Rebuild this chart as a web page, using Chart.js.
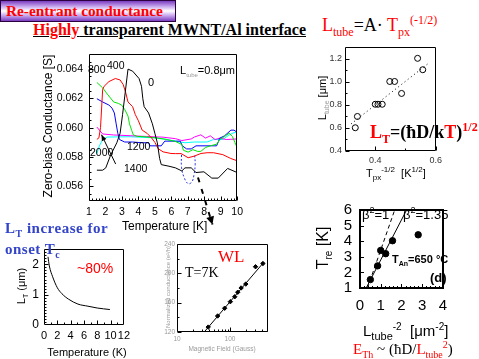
<!DOCTYPE html>
<html><head><meta charset="utf-8">
<script src="https://cdn.jsdelivr.net/npm/chart.js@4/dist/chart.umd.min.js"></script>
<style>
html,body{margin:0;padding:0;background:#fff;}
body{width:479px;height:359px;position:relative;overflow:hidden;font-family:"Liberation Sans",Arial,sans-serif;color:#000;}
canvas{position:absolute;}
.t{position:absolute;white-space:nowrap;line-height:1;transform:translateY(-50%);z-index:5;}
.c{position:absolute;white-space:nowrap;line-height:1;transform:translate(-50%,-50%);z-index:5;}
.r{position:absolute;white-space:nowrap;line-height:1;transform:translate(-50%,-50%) rotate(-90deg);z-index:5;}
.serif{font-family:"Liberation Serif","Times New Roman",serif;}
.red{color:#ff0000;}
.blue{color:#3344c8;}
.gray{color:#9a9a9a;}
sub,sup{line-height:0;}
#titlebox{position:absolute;left:0;top:0;width:174px;height:20px;border:1px solid #2a0040;
  background:linear-gradient(to bottom,#7a3cc0 0%,#c9aaee 28%,#ffffff 50%,#c9aaee 72%,#7a3cc0 100%);z-index:4;}
</style></head>
<body>
<div id="titlebox"></div>
<div class="t serif red" style="left:6px;top:11px;font-size:15.3px;font-weight:bold;">Re-entrant conductance</div>
<div class="t serif" style="left:33px;top:30px;font-size:16px;font-weight:bold;text-decoration:underline;"><span class="red">Highly</span> transparent MWNT/Al interface</div>

<!-- main chart texts -->
<div class="r" style="left:48px;top:126px;font-size:12px;">Zero-bias Conductance [S]</div>
<div class="t" style="left:122px;top:226px;font-size:12px;">Temperature [K]</div>
<div class="t" style="left:88px;top:69px;font-size:10.5px;">800</div>
<div class="t" style="left:107px;top:65px;font-size:10.5px;">400</div>
<div class="t" style="left:148px;top:82px;font-size:11px;">0</div>
<div class="t" style="left:180px;top:70px;font-size:11px;">L<sub class="gray" style="font-size:6px;">tube</sub>=0.8μm</div>
<div class="t" style="left:127px;top:146px;font-size:10.5px;">1200</div>
<div class="t" style="left:90px;top:152px;font-size:10.5px;">2000</div>
<div class="t" style="left:124px;top:168px;font-size:10.5px;">1400</div>

<!-- top right texts -->
<div class="t serif" style="left:322px;top:25px;font-size:18px;"><span class="red">L<sub style="font-size:12px;">tube</sub></span>=A· <span class="red">T<sub style="font-size:12px;">px</sub><sup style="font-size:12px;">(-1/2)</sup></span></div>
<div class="r" style="left:322px;top:98px;font-size:11px;">L<sub class="gray" style="font-size:7px;">tube</sub> [μm]</div>
<div class="t" style="left:366px;top:173px;font-size:11px;">T<sub style="font-size:8px;">px</sub><sup style="font-size:8px;">-1/2</sup>&nbsp;&nbsp;[K<sup style="font-size:8px;">1/2</sup>]</div>
<div class="t serif" style="left:370px;top:132px;font-size:18px;font-weight:bold;"><span class="red">L<sub style="font-size:12px;">T</sub></span>=(ħD/k<span class="red">T</span>)<sup class="red" style="font-size:12px;">1/2</sup></div>

<!-- bottom right texts -->
<div class="t" style="left:362px;top:214px;font-size:13px;">β<sup style="font-size:9px;">2</sup>=1</div>
<div class="t" style="left:403px;top:214px;font-size:13px;">β<sup style="font-size:9px;">2</sup>=1.35</div>
<div class="t" style="left:392px;top:259px;font-size:11px;font-weight:bold;">T<sub style="font-size:7px;">An</sub>=650 °C</div>
<div class="t" style="left:430px;top:277px;font-size:13px;font-weight:bold;">(d)</div>
<div class="r" style="left:323px;top:248px;font-size:16px;">T<sub style="font-size:10px;">re</sub> [K]</div>
<div class="t" style="left:363px;top:330px;font-size:15px;">L<sub style="font-size:11px;">tube</sub><sup style="font-size:10px;">-2</sup>&nbsp;&nbsp;[μm<sup style="font-size:10px;">-2</sup>]</div>
<div class="t serif" style="left:353px;top:349px;font-size:15px;"><span class="red">E<sub style="font-size:10px;">Th</sub></span> ~ (ħD/<span class="red">L<sub style="font-size:10px;">tube</sub><sup style="font-size:10px;">2</sup></span>)</div>

<!-- bottom left texts -->
<div class="t serif blue" style="left:5px;top:228px;font-size:15px;font-weight:bold;letter-spacing:0.5px;">L<sub style="font-size:10px;">T</sub> increase for</div>
<div class="t serif blue" style="left:5px;top:249px;font-size:15px;font-weight:bold;letter-spacing:0.5px;">onset T<sub style="font-size:10px;">c</sub></div>
<div class="t red" style="left:77px;top:268px;font-size:14px;">~80%</div>
<div class="r" style="left:21px;top:286px;font-size:11px;">L<sub style="font-size:7px;">T</sub> (μm)</div>
<div class="c" style="left:87px;top:352px;font-size:11px;">Temperature (K)</div>

<!-- WL texts -->
<div class="t serif red" style="left:218px;top:256px;font-size:17px;">WL</div>
<div class="t serif" style="left:185px;top:273px;font-size:14px;">T=7K</div>
<div class="r gray" style="left:168px;top:287px;font-size:6px;">Normalized conductance (e²/h)</div>
<div class="c gray" style="left:222px;top:349px;font-size:6.5px;">Magnetic Field (Gauss)</div>

<canvas id="cMain" width="199" height="184" style="left:49px;top:42px;"></canvas>
<canvas id="cTR" width="131" height="132" style="left:315px;top:39px;"></canvas>
<canvas id="cBR" width="121" height="120" style="left:335px;top:193px;"></canvas>
<canvas id="cBL" width="110" height="106" style="left:24px;top:237px;"></canvas>
<canvas id="cWL" width="111" height="106" style="left:163px;top:238px;"></canvas>

<script>
// ---------- DATA ----------
// Main chart: zero-bias conductance [S] vs temperature [K], one curve per field label
const seriesLabels = ['0', '400', '800', '1200', '1400', '2000'];
const tempBlack = [1.48,1.83,2.02,2.31,2.69,2.89,3.04,3.37,3.65,4.04,4.19,4.27,4.35,4.62,4.85,5.0,5.15,5.29,5.39,5.86,6.25,6.64,6.83,7.21,7.5,7.98,8.46,8.85,9.42,10];
const condBlack = [.0571,.0571,.05726,.05812,.05897,.05962,.0609,.06399,.06385,.06335,.06282,.06197,.06143,.061,.06026,.05962,.05897,.0579,.05748,.05737,.05726,.05705,.05726,.05726,.05694,.05699,.05656,.05656,.05722,.05694];
const tempRed = [1.48,1.6,1.7,1.83,1.92,2.21,2.6,2.89,3.08,3.23,3.37,3.65,3.81,4.0,4.23,4.52,4.8,5.0,5.21,5.5,5.98,6.25,6.6,7.02,7.4,7.8,8.17,8.57,9.13,9.61,10];
const condRed = [.0592,.0593,.0600,.06261,.06282,.06314,.06335,.06325,.06293,.06239,.06175,.06143,.0609,.06047,.05983,.05962,.0593,.0590,.05856,.05835,.05824,.05823,.05823,.05795,.05806,.05824,.05829,.05829,.05816,.0579,.05774];
const tempGreen = [1.48,1.83,2.11,2.5,2.79,2.98,3.18,3.37,3.46,3.6,3.69,3.94,4.35,5.12,5.69,6.27,6.64,6.73,7.02,7.31,7.6,7.79,8.08,8.37,8.75,8.95,9.23,9.52,9.71,9.87,10];
const condGreen = [.06308,.06271,.06229,.06175,.06165,.06154,.06122,.06079,.06026,.05979,.05951,.0594,.05938,.0593,.0592,.05905,.05885,.05846,.05833,.0585,.05838,.05838,.05865,.05876,.05887,.05919,.0594,.05962,.0594,.05897,.05865];
const tempBlue = [1.48,1.83,2.21,2.4,2.54,2.65,2.75,2.85,3.17,3.65,4.23,4.62,4.71,5.39,5.6,6.25,6.54,6.67,6.93,7.21,7.5,8.75,8.95,9.23,9.62,9.81,10];
const condBlue = [.06197,.06175,.06154,.06133,.061,.06026,.05962,.05919,.05902,.05902,.05897,.05897,.05876,.05876,.05908,.05908,.05908,.05876,.05855,.05855,.05876,.05876,.05929,.05944,.05983,.05983,.05968];
const tempMagenta = [1.48,1.63,1.83,2.5,3.5,4.5,5.5,6.25,6.64,7.21,7.4,7.79,8.08,8.37,8.66,8.95,9.33,10];
const condMagenta = [.06004,.05983,.05957,.0595,.05945,.0594,.05935,.05925,.05912,.05923,.05936,.05951,.05929,.05944,.05919,.05929,.05919,.05923];
const tempCyan = [1.48,1.63,1.83,2.11,3.5,5.0,5.7,6.25,6.83,7.4,8.17,8.56,9.13,9.52,9.81,10];
const condCyan = [.05823,.05876,.05919,.05936,.05938,.0593,.0592,.05908,.05897,.05902,.05902,.05919,.05919,.05951,.05966,.05966];
// annotations on main chart (data units)
const loopT = [6.62,6.62,6.78,7.02,7.25,7.38,7.45,7.42];
const loopG = [.05815,.0573,.0566,.05618,.0563,.0568,.0575,.0581];
const hintT = [7.62,8.5];
const hintG = [.0566,.0534];
const labelArrowT = [2.62,1.76];
const labelArrowG = [.05752,.05952];
const mainXTicks = [1,2,3,4,5,6,7,8,9,10];
const mainYTicks = [0.056,0.058,0.060,0.062,0.064];

// Top right: L_tube vs T_px^-1/2
const tpx = [0.334,0.341,0.40,0.409,0.423,0.448,0.464,0.487,0.54,0.557];
const ltube = [0.602,0.70,0.806,0.806,0.806,1.004,1.004,0.90,1.205,1.106];
const fitTpx = [0.32,0.58];
const fitLtube = [0.635,1.17];
const trXTicks = [0.4,0.6];
const trYTicks = [0.4,0.6,0.8,1.0,1.2];

// Bottom right: T_re vs L_tube^-2
const invL2 = [0.5,0.85,1.0,1.24,1.57,2.81];
const tre = [1.54,2.42,3.41,3.2,4.03,4.41];
const beta1X = [0.36,1.675];
const beta1Y = [1,6];
const beta135X = [0.30,2.25];
const beta135Y = [1,6];

// Bottom left: L_T vs temperature
const blTemp = [0.6,0.8,1.3,2.0,2.7,3.7,5.1,6.6,8.0,9.9];
const blLT = [2.25,1.95,1.59,1.23,1.03,0.85,0.69,0.62,0.56,0.51];

// WL: normalized conductance vs magnetic field
const wlField = [38.8,58.4,79.3,101.4,122.7,139.9,161.9,198.3,302.6,417];
const wlCond = [126.7,141.8,152.4,161.3,168,174.2,180,185.3,208.9,213.3];
const wlFitField = [32.6,430];
const wlFitCond = [120,214.7];
const wlXTicks = [10,100];
const wlYTicks = [120,160,200,240];

// ---------- HELPERS ----------
const zip = (xs, ys) => xs.map((x, i) => ({x, y: ys[i]}));
Chart.defaults.font.family = '"Liberation Sans", Arial, sans-serif';
Chart.defaults.color = '#000';
Chart.defaults.animation = false;
Chart.defaults.responsive = false;
Chart.defaults.plugins.legend.display = false;
Chart.defaults.plugins.tooltip.enabled = false;

const framePlugin = {
  id: 'frame',
  afterDatasetsDraw(chart, args, o) {
    const {ctx, chartArea: a, scales: {x, y}} = chart;
    ctx.save();
    ctx.strokeStyle = '#000';
    const lw = o.lw || 1;
    ctx.lineWidth = lw;
    const off = lw % 2 ? 0.5 : 0;
    const L = Math.round(a.left) + off, R = Math.round(a.right) - off, T = Math.round(a.top) + off, B = Math.round(a.bottom) - off;
    ctx.beginPath(); ctx.rect(L, T, R - L, B - T); ctx.stroke();
    ctx.lineWidth = 1;
    ctx.beginPath();
    const xt = (vals, len) => (vals || []).forEach(v => { const p = Math.round(x.getPixelForValue(v)) + 0.5; ctx.moveTo(p, B); ctx.lineTo(p, B - len); });
    const yt = (vals, len) => (vals || []).forEach(v => { const p = Math.round(y.getPixelForValue(v)) + 0.5; ctx.moveTo(L, p); ctx.lineTo(L + len, p); });
    xt(o.xMajor, o.maj || 5); xt(o.xMinor, o.min || 3);
    yt(o.yMajor, o.maj || 5); yt(o.yMinor, o.min || 3);
    ctx.stroke();
    ctx.restore();
  }
};
function steps(a, b, s, skip) {
  const out = [];
  for (let v = a; v <= b + 1e-9; v += s) {
    const r = Math.round(v * 1e6) / 1e6;
    if (!skip || !skip.some(k => Math.abs(k - r) < 1e-9)) out.push(r);
  }
  return out;
}
function axis(opts) {
  const {min, max, ticks, fmt, size, color, pad, fit, type} = opts;
  return {
    type: type || 'linear', min, max,
    grid: {display: false, drawTicks: false}, border: {display: false},
    afterBuildTicks: s => { s.ticks = ticks.map(v => ({value: v})); },
    ticks: {font: {size}, color: color || '#000', padding: pad, maxRotation: 0, autoSkip: false,
      callback: v => fmt ? fmt(v) : String(v)},
    afterFit: fit
  };
}

// ---------- MAIN CHART ----------
const mainSeries = [
  [tempBlack, condBlack, '#000000'],
  [tempRed, condRed, '#ff0000'],
  [tempGreen, condGreen, '#00e600'],
  [tempBlue, condBlue, '#0000ff'],
  [tempMagenta, condMagenta, '#ff00ff'],
  [tempCyan, condCyan, '#00ffff'],
];
const arrowHeads = {
  id: 'arrowHeads',
  afterDatasetsDraw(chart) {
    const {ctx, scales: {x, y}} = chart;
    const head = (x0, y0, x1, y1, len, wid) => {
      const px0 = x.getPixelForValue(x0), py0 = y.getPixelForValue(y0);
      const px1 = x.getPixelForValue(x1), py1 = y.getPixelForValue(y1);
      const ang = Math.atan2(py1 - py0, px1 - px0);
      ctx.beginPath();
      ctx.moveTo(px1, py1);
      ctx.lineTo(px1 - len * Math.cos(ang) + wid * Math.sin(ang), py1 - len * Math.sin(ang) - wid * Math.cos(ang));
      ctx.lineTo(px1 - len * Math.cos(ang) - wid * Math.sin(ang), py1 - len * Math.sin(ang) + wid * Math.cos(ang));
      ctx.closePath(); ctx.fill();
    };
    ctx.save(); ctx.fillStyle = '#000';
    head(labelArrowT[0], labelArrowG[0], labelArrowT[1], labelArrowG[1], 6, 2.5);
    head(hintT[0], hintG[0], hintT[1], hintG[1], 8, 4);
    ctx.restore();
  }
};
new Chart(document.getElementById('cMain'), {
  type: 'line',
  data: {datasets: [
    ...mainSeries.map(([t, g, c], i) => ({label: seriesLabels[i], data: zip(t, g), borderColor: c, borderWidth: 1, pointRadius: 0, tension: 0})),
    {data: zip(loopT, loopG), borderColor: '#2233dd', borderWidth: 1, borderDash: [2, 2], pointRadius: 0, tension: 0.4},
    {data: zip(hintT, hintG), borderColor: '#000', borderWidth: 2, borderDash: [5, 7], pointRadius: 0, clip: false},
    {data: zip(labelArrowT, labelArrowG), borderColor: '#000', borderWidth: 1, pointRadius: 0},
  ]},
  options: {
    layout: {padding: {top: 4, right: 3, left: 0, bottom: 0}},
    scales: {
      x: axis({min: 1, max: 10, ticks: mainXTicks, size: 10.5, pad: 5, fit: s => { s.height = 25; }}),
      y: axis({min: 0.055, max: 0.065, ticks: mainYTicks, size: 10.5, pad: 6, fmt: v => v.toFixed(3), fit: s => { s.width = 40; }}),
    },
    plugins: {frame: {xMajor: mainXTicks, xMinor: steps(1, 10, 0.2, mainXTicks), yMajor: mainYTicks, yMinor: steps(0.0555, 0.0645, 0.0005, mainYTicks), maj: 4, min: 2, lw: 1}}
  },
  plugins: [framePlugin, arrowHeads]
});

// ---------- TOP RIGHT ----------
new Chart(document.getElementById('cTR'), {
  type: 'scatter',
  data: {datasets: [
    {data: zip(tpx, ltube), pointStyle: 'circle', pointRadius: 3, borderColor: '#000', borderWidth: 1, backgroundColor: 'rgba(255,255,255,0)'},
    {data: zip(fitTpx, fitLtube), showLine: true, borderColor: '#000', borderWidth: 1, borderDash: [1, 3], pointRadius: 0},
  ]},
  options: {
    layout: {padding: {top: 3, right: 3, left: 0, bottom: 0}},
    scales: {
      x: axis({min: 0.3, max: 0.6, ticks: trXTicks, size: 9, color: '#333', pad: 4, fmt: v => v.toFixed(1), fit: s => { s.height = 20; }}),
      y: axis({min: 0.4, max: 1.3, ticks: trYTicks, size: 9, color: '#333', pad: 3, fmt: v => v.toFixed(1), fit: s => { s.width = 30; }}),
    },
    plugins: {frame: {xMajor: trXTicks, xMinor: [0.3, 0.5], yMajor: trYTicks, yMinor: [0.5, 0.7, 0.9, 1.1], maj: 4, min: 2}}
  },
  plugins: [framePlugin]
});

// ---------- BOTTOM RIGHT ----------
new Chart(document.getElementById('cBR'), {
  type: 'scatter',
  data: {datasets: [
    {data: zip(invL2, tre), pointStyle: 'circle', pointRadius: 3.2, borderColor: '#000', backgroundColor: '#000'},
    {data: zip(beta1X, beta1Y), showLine: true, borderColor: '#000', borderWidth: 1, borderDash: [4, 3], pointRadius: 0},
    {data: zip(beta135X, beta135Y), showLine: true, borderColor: '#000', borderWidth: 1, pointRadius: 0},
  ]},
  options: {
    layout: {padding: {top: 8, right: 8, left: 0, bottom: 0}},
    scales: {
      x: axis({min: 0, max: 4, ticks: [0, 1, 2, 3, 4], size: 15, pad: 9, fit: s => { s.height = 25; }}),
      y: axis({min: 1, max: 6, ticks: [1, 2, 3, 4, 5, 6], size: 15, pad: 8, fit: s => { s.width = 25; }}),
    },
    plugins: {frame: {xMajor: [1, 2, 3], xMinor: steps(0.2, 3.8, 0.2, [1, 2, 3]), yMajor: [2, 3, 4, 5], yMinor: [], maj: 4, min: 2, lw: 2}}
  },
  plugins: [framePlugin]
});

// ---------- BOTTOM LEFT ----------
new Chart(document.getElementById('cBL'), {
  type: 'line',
  data: {datasets: [
    {data: zip(blTemp, blLT), borderColor: '#000', borderWidth: 1, pointRadius: 0, cubicInterpolationMode: 'monotone'},
  ]},
  options: {
    layout: {padding: {top: 6, right: 8, left: 0, bottom: 0}},
    scales: {
      x: axis({min: 0, max: 12, ticks: [0, 2, 4, 6, 8, 10, 12], size: 11, pad: 4, fit: s => { s.height = 18; }}),
      y: axis({min: 0, max: 2.5, ticks: [0, 1, 2], size: 12, pad: 5, fit: s => { s.width = 20; }}),
    },
    plugins: {frame: {xMajor: [2, 4, 6, 8, 10], xMinor: steps(1, 11, 2), yMajor: [1, 2], yMinor: steps(0.1, 2.4, 0.1, [1, 2]), maj: 4, min: 2}}
  },
  plugins: [framePlugin]
});

// ---------- WL ----------
new Chart(document.getElementById('cWL'), {
  type: 'scatter',
  data: {datasets: [
    {data: zip(wlField, wlCond), pointStyle: 'rectRot', pointRadius: 2.2, borderColor: '#000', backgroundColor: '#000'},
    {data: zip(wlFitField, wlFitCond), showLine: true, borderColor: '#000', borderWidth: 1, pointRadius: 0},
  ]},
  options: {
    layout: {padding: {top: 4, right: 6, left: 0, bottom: 0}},
    scales: {
      x: axis({type: 'logarithmic', min: 10, max: 520, ticks: wlXTicks, size: 6.5, color: '#999', pad: 3, fit: s => { s.height = 12; }}),
      y: axis({min: 120, max: 240, ticks: wlYTicks, size: 6.5, color: '#999', pad: 2, fit: s => { s.width = 14; }}),
    },
    plugins: {frame: {xMajor: wlXTicks, xMinor: [20, 30, 40, 50, 60, 70, 80, 90, 200, 300, 400, 500], yMajor: wlYTicks, yMinor: [140, 180, 220], maj: 4, min: 2}}
  },
  plugins: [framePlugin]
});
</script>
</body></html>
